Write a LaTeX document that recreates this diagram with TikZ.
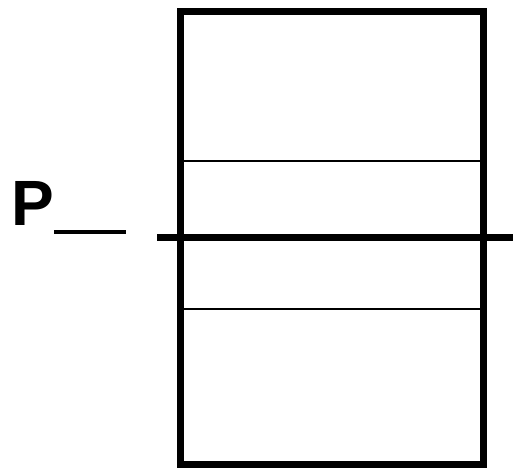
\documentclass[tikz,border=0pt]{standalone}
\usepackage{fontspec}
\setmainfont{Liberation Sans}
\begin{document}
\begin{tikzpicture}[x=1pt,y=-1pt,
  frame/.style={line width=7pt},
  thin/.style={line width=1.6pt},
  plane/.style={line width=7pt},
  label/.style={font=\fontsize{64}{64}\selectfont\bfseries, inner sep=0pt, anchor=base west}]
\useasboundingbox (0,0) rectangle (513,467);
\draw[frame] (180,11.5) rectangle (483,464.5);
\draw[thin] (183.5,161) -- (479.5,161);
\draw[thin] (183.5,309) -- (479.5,309);
\draw[plane] (157,237) -- (513,237);
\node[label] (p) at (11.5,225) {P};
\coordinate (u1) at (54,232);
\coordinate (u2) at (126,232);
\draw[line width=4pt] (u1) -- (u2);
\end{tikzpicture}
\end{document}
